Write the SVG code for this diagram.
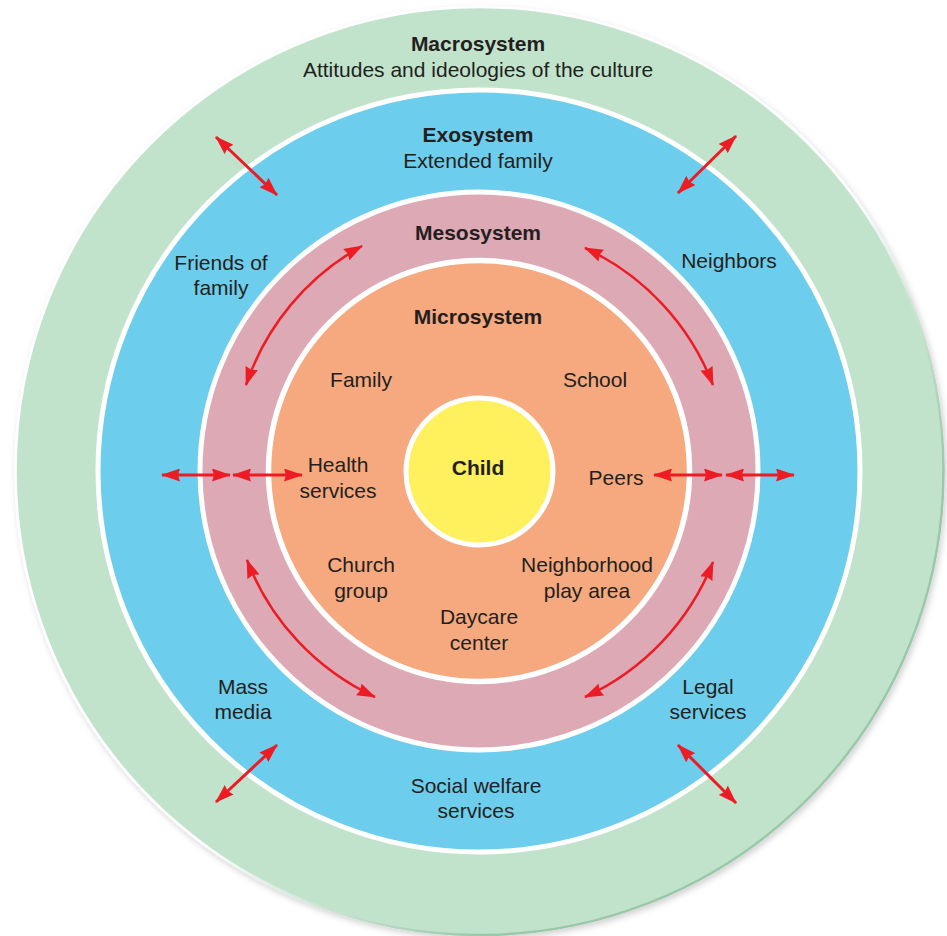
<svg xmlns="http://www.w3.org/2000/svg" width="947" height="936" viewBox="0 0 947 936">
<style>
.t{font-family:"Liberation Sans",Arial,sans-serif;font-size:21px;fill:#231F20;text-anchor:middle}
.b{font-weight:bold}
.arr{fill:none;stroke:#ED1C24;stroke-width:3}
.arc{fill:none;stroke:#ED1C24;stroke-width:2.5}
</style>
<defs>
<marker id="ah" viewBox="0 0 19 13" refX="18" refY="6.5" markerUnits="userSpaceOnUse" markerWidth="19" markerHeight="13" orient="auto-start-reverse">
<path d="M0,0 L19,6.5 L0,13 L2,6.5 z" fill="#ED1C24"/>
</marker>
<linearGradient id="rim" x1="0" y1="0" x2="1" y2="1">
<stop offset="0" stop-color="#ffffff"/>
<stop offset="0.55" stop-color="#ffffff"/>
<stop offset="0.75" stop-color="#9CC8AA"/>
<stop offset="1" stop-color="#9CC8AA"/>
</linearGradient>
<filter id="sh" x="-5%" y="-5%" width="110%" height="110%">
<feDropShadow dx="2" dy="3" stdDeviation="3" flood-color="#000" flood-opacity="0.18"/>
</filter>
</defs>
<rect width="947" height="936" fill="#ffffff"/>
<g id="macrosystem">
<circle cx="479.5" cy="471" r="464" fill="#C1E3CC" stroke="url(#rim)" stroke-width="2.5" filter="url(#sh)"/>
<text class="t b" x="478" y="51">Macrosystem</text>
<text class="t" x="478" y="77">Attitudes and ideologies of the culture</text>
</g>
<g id="exosystem">
<circle cx="479" cy="471" r="381" fill="#6DCDEC" stroke="#ffffff" stroke-width="5"/>
<text class="t b" x="478" y="142">Exosystem</text>
<text class="t" x="478" y="168">Extended family</text>
<text class="t" x="221" y="270">Friends of</text>
<text class="t" x="221" y="295">family</text>
<text class="t" x="729" y="268">Neighbors</text>
<text class="t" x="243" y="694">Mass</text>
<text class="t" x="243" y="719">media</text>
<text class="t" x="708" y="694">Legal</text>
<text class="t" x="708" y="719">services</text>
<text class="t" x="476" y="793">Social welfare</text>
<text class="t" x="476" y="818">services</text>
</g>
<g id="mesosystem">
<circle cx="479" cy="471" r="279" fill="#DDA9B5" stroke="#ffffff" stroke-width="5"/>
<text class="t b" x="478" y="240">Mesosystem</text>
</g>
<g id="microsystem">
<circle cx="479" cy="471" r="210.5" fill="#F6A87E" stroke="#ffffff" stroke-width="5.5"/>
<text class="t b" x="478" y="324">Microsystem</text>
<text class="t" x="361" y="387">Family</text>
<text class="t" x="595" y="387">School</text>
<text class="t" x="338" y="472">Health</text>
<text class="t" x="338" y="498">services</text>
<text class="t" x="616" y="485">Peers</text>
<text class="t" x="361" y="572">Church</text>
<text class="t" x="361" y="598">group</text>
<text class="t" x="587" y="572">Neighborhood</text>
<text class="t" x="587" y="598">play area</text>
<text class="t" x="479" y="624">Daycare</text>
<text class="t" x="479" y="650">center</text>
</g>
<g id="child">
<circle cx="479.5" cy="471.5" r="73.5" fill="#FFF05E" stroke="#ffffff" stroke-width="5"/>
<text class="t b" x="478" y="475">Child</text>
</g>
<g id="connectors">
<path class="arr" d="M162,475 L230,475" marker-start="url(#ah)" marker-end="url(#ah)"/>
<path class="arr" d="M233,475 L302,475" marker-start="url(#ah)" marker-end="url(#ah)"/>
<path class="arr" d="M654,475 L722,475" marker-start="url(#ah)" marker-end="url(#ah)"/>
<path class="arr" d="M726,475 L794,475" marker-start="url(#ah)" marker-end="url(#ah)"/>
<path class="arr" d="M216,137 L277,195" marker-start="url(#ah)" marker-end="url(#ah)"/>
<path class="arr" d="M736,136 L678,193" marker-start="url(#ah)" marker-end="url(#ah)"/>
<path class="arr" d="M277,745 L216,802" marker-start="url(#ah)" marker-end="url(#ah)"/>
<path class="arr" d="M678,745 L736,803" marker-start="url(#ah)" marker-end="url(#ah)"/>
<path class="arc" d="M362,246 A250,250 0 0 0 246,385" marker-start="url(#ah)" marker-end="url(#ah)"/>
<path class="arc" d="M585,248 A250,250 0 0 1 713,385" marker-start="url(#ah)" marker-end="url(#ah)"/>
<path class="arc" d="M247,560 A250,250 0 0 0 375,697" marker-start="url(#ah)" marker-end="url(#ah)"/>
<path class="arc" d="M713,562 A250,250 0 0 1 585,697" marker-start="url(#ah)" marker-end="url(#ah)"/>
</g>
</svg>
